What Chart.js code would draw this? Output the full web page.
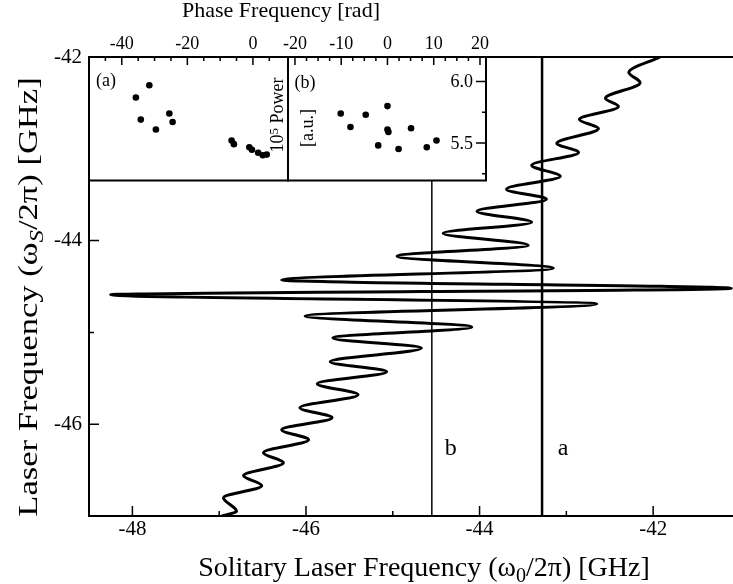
<!DOCTYPE html>
<html>
<head>
<meta charset="utf-8">
<script src="https://cdn.jsdelivr.net/npm/chart.js@4.4.0/dist/chart.umd.min.js"></script>
<style>
  body { margin: 0; background: #fff; }
  #wrap { position: relative; width: 733px; height: 584px; }
  #wrap canvas { position: absolute; left: 0; top: 0; }
</style>
</head>
<body>
<div id="wrap">
  <canvas id="main" width="733" height="584"></canvas>
  <canvas id="insetA" width="733" height="584"></canvas>
  <canvas id="insetB" width="733" height="584"></canvas>
</div>
<script>
// turning points of the locked laser curve (GHz)
var solitaryFreq = [-41.92, -42.28, -42.15, -42.55, -42.40, -42.85, -42.63, -43.11, -42.86, -43.40,
  -43.07, -43.69, -43.23, -44.03, -43.40, -44.42, -43.44, -44.95, -43.15, -46.28,
  -41.10, -48.25, -42.65, -46.01, -44.09, -45.69, -44.67, -45.72, -45.07, -45.87,
  -45.40, -46.07, -45.70, -46.28, -45.97, -46.49, -46.26, -46.72, -46.51, -46.95,
  -46.80, -46.97];
var laserFreq = [-42.00, -42.17, -42.28, -42.45, -42.54, -42.68, -42.78, -42.94, -43.04, -43.18,
  -43.30, -43.44, -43.55, -43.68, -43.80, -43.92, -44.05, -44.17, -44.30, -44.43,
  -44.52, -44.59, -44.69, -44.82, -44.94, -45.06, -45.17, -45.32, -45.43, -45.56,
  -45.68, -45.82, -45.93, -46.06, -46.17, -46.31, -46.42, -46.56, -46.67, -46.80,
  -46.95, -47.00];

// the two cuts
var cutA = -43.28;
var cutB = -44.55;

var xMajor = [-48, -46, -44, -42];
var xMinor = [-47, -45, -43];
var yMajor = [-46, -44, -42];
var yMinor = [-45, -43];

// inset (a)
var phaseA = [-31.6, -35.7, -34.2, -29.6, -25.5, -24.5, -6.5, -5.8, -1.1, -0.3, 1.6, 3.0, 4.2];
var powerA = [5.97, 5.87, 5.69, 5.61, 5.74, 5.67, 5.52, 5.49, 5.465, 5.445, 5.42, 5.40, 5.405];
// inset (b)
var phaseB = [-10.1, -8.0, -4.7, 0.0, 0.0, 0.2, -2.0, 2.4, 5.1, 8.5, 10.6];
var powerB = [5.74, 5.63, 5.73, 5.80, 5.61, 5.59, 5.48, 5.45, 5.62, 5.465, 5.52];

var phaseMajorA = [-40, -20, 0];
var phaseMinorA = [-45, -35, -30, -25, -15, -10, -5, 5];
var phaseMajorB = [-20, -10, 0, 10, 20];
var phaseMinorB = [-17.5, -15, -12.5, -7.5, -5, -2.5, 2.5, 5, 7.5, 12.5, 15, 17.5];
var powerMajor = [5.5, 6.0];
var powerMinor = [5.25, 5.75];

var serif = '"Liberation Serif", "Times New Roman", serif';
Chart.defaults.font.family = serif;
Chart.defaults.color = '#000';

function zip(xs, ys) {
  return xs.map(function (v, i) { return { x: v, y: ys[i] }; });
}

function fixTicks(values) {
  return function (scale) {
    scale.ticks = values.map(function (v) { return { value: v }; });
  };
}

// inward tick marks along one edge of the plot area
function tickMarks(chart, id, values, len, edge) {
  var ctx = chart.ctx, a = chart.chartArea, s = chart.scales[id];
  ctx.save();
  ctx.strokeStyle = '#000';
  ctx.lineWidth = 1.5;
  ctx.beginPath();
  values.forEach(function (v) {
    var p = s.getPixelForValue(v);
    if (edge == 'bottom') { ctx.moveTo(p, a.bottom); ctx.lineTo(p, a.bottom - len); }
    else if (edge == 'top') { ctx.moveTo(p, a.top); ctx.lineTo(p, a.top + len); }
    else if (edge == 'left') { ctx.moveTo(a.left, p); ctx.lineTo(a.left + len, p); }
    else { ctx.moveTo(a.right, p); ctx.lineTo(a.right - len, p); }
  });
  ctx.stroke();
  ctx.restore();
}

// centred text with sub/superscripts, y is the baseline
function richText(ctx, parts, x, y, size, rot, stretch) {
  ctx.save();
  ctx.translate(x, y);
  if (rot) ctx.rotate(rot);
  if (stretch) ctx.scale(stretch, 1);
  ctx.fillStyle = '#000';
  ctx.textBaseline = 'alphabetic';
  ctx.textAlign = 'left';
  var total = 0;
  var runs = parts.map(function (p) {
    var s = (p.sub || p.sup) ? size * 0.72 : size;
    var f = (p.italic ? 'italic ' : '') + s + 'px ' + serif;
    ctx.font = f;
    var w = ctx.measureText(p.text).width;
    total += w;
    return { text: p.text, font: f, w: w, dy: p.sub ? size * 0.22 : (p.sup ? -size * 0.3 : 0) };
  });
  var cx = -total / 2;
  runs.forEach(function (r) {
    ctx.font = r.font;
    ctx.fillText(r.text, cx, r.dy);
    cx += r.w;
  });
  ctx.restore();
}

var mainDecor = {
  id: 'mainDecor',
  afterDraw: function (chart) {
    var ctx = chart.ctx, a = chart.chartArea, x = chart.scales.x;
    ctx.save();
    ctx.strokeStyle = '#000';
    ctx.lineWidth = 2;
    ctx.beginPath();
    ctx.moveTo(a.left - 1, a.top);
    ctx.lineTo(a.right, a.top);
    ctx.stroke();
    ctx.restore();

    tickMarks(chart, 'x', xMajor, 10, 'bottom');
    tickMarks(chart, 'x', xMinor, 5, 'bottom');
    tickMarks(chart, 'y', yMajor, 10, 'left');
    tickMarks(chart, 'y', yMinor, 5, 'left');

    richText(ctx, [{ text: 'Solitary Laser Frequency (\u03c9' }, { text: '0', sub: true }, { text: '/2\u03c0) [GHz]' }],
      424, 576, 28, 0);
    richText(ctx, [{ text: 'Laser Frequency (\u03c9' }, { text: 'S', sub: true, italic: true }, { text: '/2\u03c0) [GHz]' }],
      37, 297, 27, -Math.PI / 2, 1.28);

    ctx.save();
    ctx.font = '24px ' + serif;
    ctx.fillStyle = '#000';
    ctx.textAlign = 'center';
    ctx.fillText('b', x.getPixelForValue(cutB) + 19, 455);
    ctx.fillText('a', x.getPixelForValue(cutA) + 21, 455);
    ctx.restore();
  }
};

new Chart(document.getElementById('main'), {
  type: 'line',
  data: {
    datasets: [{
      data: zip(solitaryFreq, laserFreq),
      indexAxis: 'y',
      cubicInterpolationMode: 'monotone',
      borderColor: '#000',
      borderWidth: 3,
      pointRadius: 0
    }, {
      data: [{ x: cutA, y: -47 }, { x: cutA, y: -42 }],
      borderColor: '#000',
      borderWidth: 2.5,
      pointRadius: 0
    }, {
      data: [{ x: cutB, y: -47 }, { x: cutB, y: -42 }],
      borderColor: '#000',
      borderWidth: 1.5,
      pointRadius: 0
    }]
  },
  options: {
    responsive: false,
    animation: false,
    events: [],
    layout: { padding: { top: 57, right: 0, bottom: 0, left: 0 } },
    plugins: { legend: { display: false }, tooltip: { enabled: false } },
    scales: {
      x: {
        type: 'linear', min: -48.5, max: -41.08,
        afterBuildTicks: fixTicks(xMajor),
        afterFit: function (s) { s.height = 68; },
        ticks: { font: { size: 21 }, padding: 1, callback: function (v) { return String(v); } },
        grid: { display: false, drawTicks: false },
        border: { color: '#000', width: 2 }
      },
      y: {
        type: 'linear', min: -47, max: -42,
        afterBuildTicks: fixTicks(yMajor),
        afterFit: function (s) { s.width = 89; },
        ticks: { font: { size: 21 }, padding: 7, callback: function (v) { return String(v); } },
        grid: { display: false, drawTicks: false },
        border: { color: '#000', width: 2 }
      }
    }
  },
  plugins: [mainDecor]
});

function insetBox(marks, extra) {
  return {
    id: 'insetBox',
    beforeDraw: function (chart) {
      var a = chart.chartArea, ctx = chart.ctx;
      ctx.save();
      ctx.fillStyle = '#fff';
      ctx.fillRect(a.left, a.top, a.right - a.left, a.bottom - a.top);
      ctx.restore();
    },
    afterDraw: function (chart) {
      var a = chart.chartArea, ctx = chart.ctx;
      ctx.save();
      ctx.strokeStyle = '#000';
      ctx.lineWidth = 2;
      ctx.strokeRect(a.left, a.top, a.right - a.left, a.bottom - a.top);
      ctx.restore();
      tickMarks(chart, 'x', marks.major, 8, 'top');
      tickMarks(chart, 'x', marks.minor, 4, 'top');
      if (extra) extra(chart);
    }
  };
}

function insetOptions(padding, xmin, xmax, majors) {
  return {
    responsive: false,
    animation: false,
    events: [],
    layout: { padding: padding },
    plugins: { legend: { display: false }, tooltip: { enabled: false } },
    scales: {
      x: {
        type: 'linear', position: 'top', min: xmin, max: xmax,
        afterBuildTicks: fixTicks(majors),
        afterFit: function (s) { s.height = 57; },
        ticks: { font: { size: 18 }, padding: 2, autoSkip: false, maxRotation: 0,
          callback: function (v) { return String(v); } },
        grid: { display: false, drawTicks: false },
        border: { display: false }
      },
      y: { type: 'linear', display: false, min: 5.194, max: 6.2 }
    }
  };
}

new Chart(document.getElementById('insetA'), {
  type: 'scatter',
  data: { datasets: [{ data: zip(phaseA, powerA), backgroundColor: '#000', borderWidth: 0, pointRadius: 3.3 }] },
  options: insetOptions({ left: 89, right: 445, top: 0, bottom: 403.5 }, -50, 10.7, phaseMajorA),
  plugins: [insetBox({ major: phaseMajorA, minor: phaseMinorA })]
});

new Chart(document.getElementById('insetB'), {
  type: 'scatter',
  data: { datasets: [{ data: zip(phaseB, powerB), backgroundColor: '#000', borderWidth: 0, pointRadius: 3.3 }] },
  options: insetOptions({ left: 288, right: 247, top: 0, bottom: 403.5 }, -21.5, 21.3, phaseMajorB),
  plugins: [insetBox({ major: phaseMajorB, minor: phaseMinorB }, function (chart) {
    var ctx = chart.ctx, a = chart.chartArea, y = chart.scales.y;
    tickMarks(chart, 'y', powerMajor, 10, 'right');
    tickMarks(chart, 'y', powerMinor, 4, 'right');
    // power labels sit inside the panel, next to the right edge
    ctx.save();
    ctx.font = '18px ' + serif;
    ctx.fillStyle = '#000';
    ctx.textAlign = 'right';
    ctx.textBaseline = 'middle';
    powerMajor.forEach(function (v) {
      ctx.fillText(v.toFixed(1), a.right - 13, y.getPixelForValue(v) + 1);
    });
    ctx.restore();
    richText(ctx, [{ text: 'Phase Frequency [rad]' }], 281, 17, 22, 0);
    richText(ctx, [{ text: '(a)' }], 106, 86, 18, 0);
    richText(ctx, [{ text: '(b)' }], 305, 88, 18, 0);
    richText(ctx, [{ text: '10' }, { text: '5', sup: true }, { text: ' Power' }], 283, 115, 18, -Math.PI / 2);
    richText(ctx, [{ text: '[a.u.]' }], 313, 128, 18, -Math.PI / 2);
  })]
});
</script>
</body>
</html>
